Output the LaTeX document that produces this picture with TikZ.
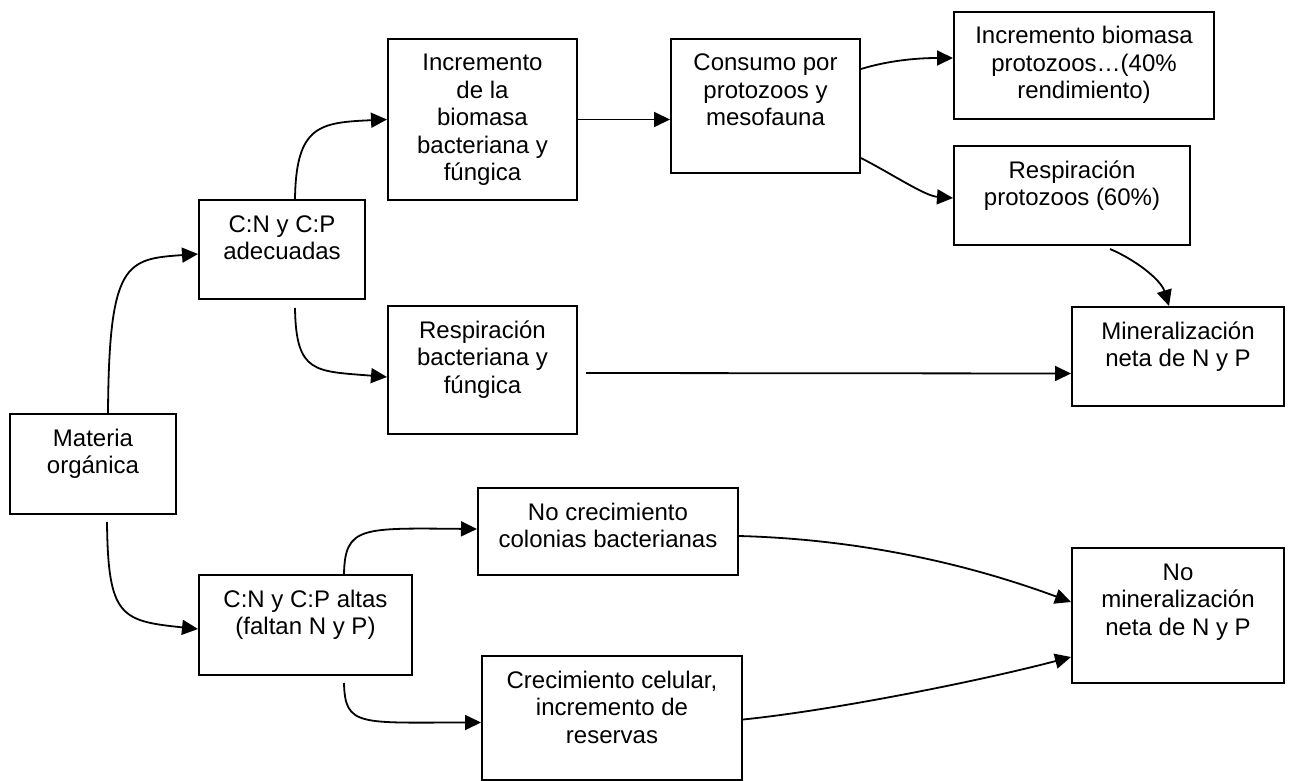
\documentclass[tikz,border=0pt]{standalone}
\usepackage{fontspec}
\setmainfont{Liberation Sans}
\usetikzlibrary{arrows.meta,calc}
\newcommand{\boxtext}[3]{\parbox[t][#2][t]{#1}{\centering\rule{0pt}{32pt}#3}}
\begin{document}
\begin{tikzpicture}[x=1pt,y=-1pt,
  box/.style={draw, line width=2pt, inner sep=0pt, anchor=north west,
    font=\fontsize{24}{27.5}\selectfont},
  arr/.style={line width=1.8pt, -{Triangle[length=16pt,width=15pt]}}]
\useasboundingbox (0,0) rectangle (1290,781);
\fill[white] (0,0) rectangle (1290,781);
% boxes
\node[box] (mat)   at (9,413)   {\boxtext{166pt}{100pt}{Materia\\orgánica}};
\node[box] (cna)   at (198,199) {\boxtext{166pt}{99pt}{C:N y C:P\\adecuadas}};
\node[box] (inc)   at (387,38)  {\boxtext{189pt}{161pt}{Incremento\\de la\\biomasa\\bacteriana y\\fúngica}};
\node[box] (cons)  at (670,38)  {\boxtext{189pt}{134pt}{Consumo por\\protozoos y\\mesofauna}};
\node[box] (ibp)   at (953,11)  {\boxtext{260pt}{107pt}{Incremento biomasa\\protozoos…(40\%\\rendimiento)}};
\node[box] (rp)    at (953,145) {\boxtext{236pt}{99pt}{Respiración\\protozoos (60\%)}};
\node[box] (min)   at (1071,306){\boxtext{212pt}{99pt}{Mineralización\\neta de N y P}};
\node[box] (rb)    at (387,305) {\boxtext{189pt}{128pt}{Respiración\\bacteriana y\\fúngica}};
\node[box] (nc)    at (477,487) {\boxtext{260pt}{87pt}{No crecimiento\\colonias bacterianas}};
\node[box] (cnal)  at (198,574) {\boxtext{213pt}{100pt}{C:N y C:P altas\\(faltan N y P)}};
\node[box] (crec)  at (481,655) {\boxtext{260pt}{124pt}{Crecimiento celular,\\incremento de\\reservas}};
\node[box] (nomin) at (1071,547){\boxtext{212pt}{135pt}{No\\mineralización\\neta de N y P}};
% connectors
\draw[arr] ([xshift=15pt]mat.north) .. controls +(1,-151) and +(-72,5) .. ([yshift=-4.5pt]cna.west);
\draw[arr] ([xshift=13pt]cna.north) .. controls +(1,-74) and +(-67,3) .. (inc.west);
\draw[arr] ([xshift=13pt,yshift=-8pt]cna.south) .. controls +(1,66) and +(-72,-6) .. ([yshift=-7pt]rb.west);
\draw[arr] (inc.east) -- (inc.east -| cons.west);
\draw[arr] ([yshift=37pt]cons.east) .. controls +(26,-8) and +(-38,0) .. ([yshift=7.5pt]ibp.west);
\draw[arr] ([yshift=-52pt]cons.east) .. controls +(31,16) and +(-28,-2) .. ([yshift=-2.5pt]rp.west);
\draw[arr] ([xshift=38pt,yshift=-3pt]rp.south) .. controls +(26,11) and +(-8,-26) .. ([xshift=-9pt]min.north);
\draw[arr] ([xshift=8pt,yshift=-3pt]rb.east) -- ([yshift=-17pt]min.west);
\draw[arr] ([xshift=14pt,yshift=-7pt]mat.south) .. controls +(1,95) and +(-77,-8) .. ([yshift=-4pt]cnal.west);
\draw[arr] ([xshift=38.5pt]cnal.north) .. controls +(1,-48) and +(-115,-1) .. ([yshift=2.5pt]nc.west);
\draw[arr] ([xshift=38.5pt,yshift=-7pt]cnal.south) .. controls +(1,44) and +(-121,0) .. ([yshift=-4.5pt]crec.west);
\draw[arr] ([yshift=-4.5pt]nc.east) .. controls +(113,3) and +(-111,-41) .. ([yshift=13.5pt]nomin.west);
\draw[arr] ([yshift=-1.5pt]crec.east) .. controls +(89,-9) and +(-91,24) .. ([yshift=-41.5pt]nomin.west);
\end{tikzpicture}
\end{document}
